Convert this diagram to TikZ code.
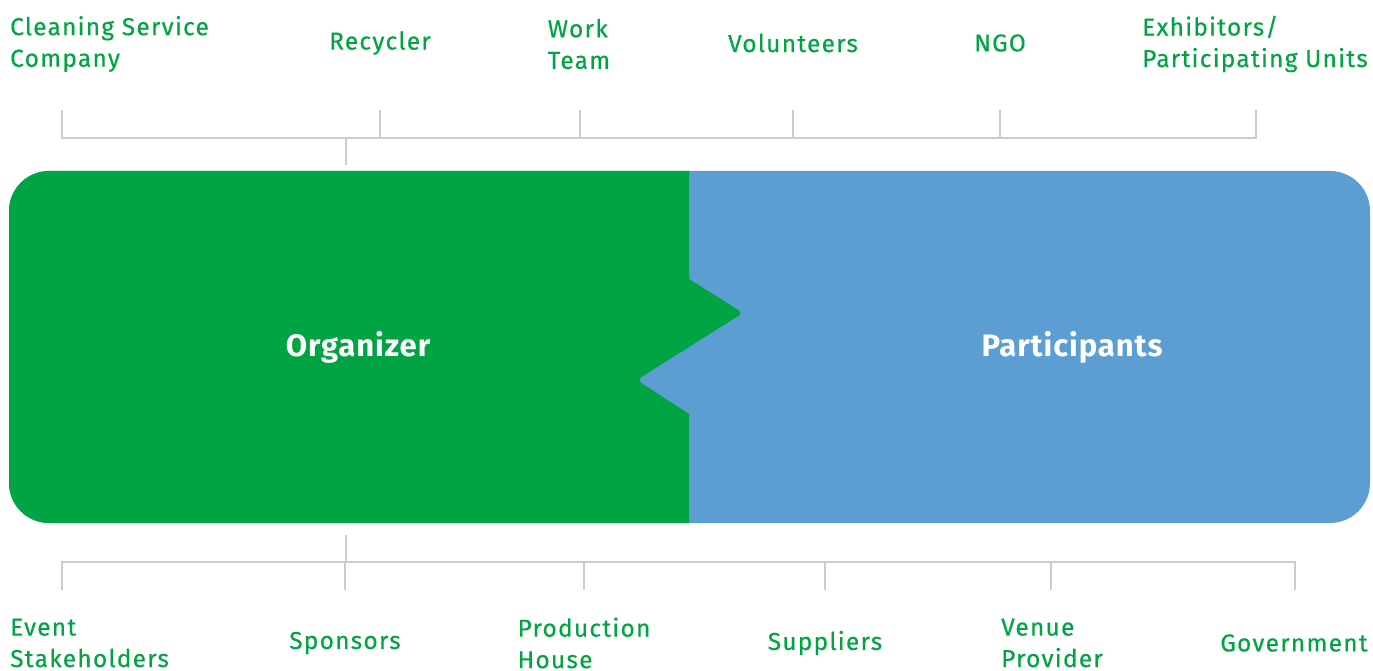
\documentclass[tikz,border=0pt]{standalone}
\usepackage{fontspec}
\setmainfont{Fira Sans}
\newfontfamily\lblfont{Fira Sans}[LetterSpace=5, FakeBold=0.3]
\newfontfamily\mainfont{Fira Sans Bold}[LetterSpace=3]
\definecolor{gr}{HTML}{00A443}
\definecolor{bl}{HTML}{5C9DD2}
\definecolor{ln}{HTML}{CCCCCC}
\begin{document}
\begin{tikzpicture}[x=1pt,y=-1pt,
  lbl/.style={text=gr, font=\lblfont\fontsize{24.5}{31.5}\selectfont, align=left, inner sep=0pt},
  brk/.style={draw=ln, line width=2.6pt},
  mainlbl/.style={text=white, font=\mainfont\fontsize{31}{34}\selectfont, inner sep=0pt}]
\useasboundingbox (0,0) rectangle (1373,671);
% main block
\fill[bl, rounded corners=40pt] (9,171) rectangle (1370,523);
\begin{scope}
\clip (0,0) rectangle (689,671);
\fill[gr, rounded corners=40pt] (9,171) rectangle (1370,523);
\end{scope}
\fill[bl, rounded corners=5pt] (703,338.1) -- (637,380) -- (703,422.9) -- cycle;
\fill[gr, rounded corners=5pt] (675,270.2) -- (743,313) -- (675,355.8) -- cycle;
\node[mainlbl] (org) at (358,347) {Organizer};
\node[mainlbl] (par) at (1072,347) {Participants};
% top bracket
\coordinate (t0) at (62,138); \coordinate (t1) at (380,138); \coordinate (t2) at (580,138);
\coordinate (t3) at (793,138); \coordinate (t4) at (1000,138); \coordinate (t5) at (1256,138);
\coordinate (ts) at (346,138);
\draw[brk] (62,110) -- (t0) -- (t5) -- (1256,110);
\foreach \c/\x in {t1/380,t2/580,t3/793,t4/1000} \draw[brk] (\c) -- (\x,110);
\draw[brk] (ts) -- (346,165);
% bottom bracket
\coordinate (b0) at (62,562); \coordinate (b1) at (345,562); \coordinate (b2) at (584,562);
\coordinate (b3) at (825,562); \coordinate (b4) at (1051,562); \coordinate (b5) at (1295,562);
\coordinate (bs) at (346,562);
\draw[brk] (62,590) -- (b0) -- (b5) -- (1295,590);
\foreach \c/\x in {b1/345,b2/584,b3/825,b4/1051} \draw[brk] (\c) -- (\x,590);
\draw[brk] (bs) -- (346,535);
% top labels
\node[lbl, anchor=west] (l1) at (10,44) {Cleaning Service\\Company};
\node[lbl] (l2) at (380,43) {Recycler};
\node[lbl] (l3) at (579,44) {Work\\Team};
\node[lbl] (l4) at (793,43) {Volunteers};
\node[lbl] (l5) at (1000,43) {NGO};
\node[lbl] (l6) at (1255,44) {Exhibitors/\\Participating Units};
% bottom labels
\node[lbl, anchor=west] (m1) at (10,643) {Event\\Stakeholders};
\node[lbl] (m2) at (345,643) {Sponsors};
\node[lbl] (m3) at (584,643) {Production\\House};
\node[lbl] (m4) at (825,643) {Suppliers};
\node[lbl] (m5) at (1052,643) {Venue\\Provider};
\node[lbl] (m6) at (1294,643) {Government};
\end{tikzpicture}
\end{document}
